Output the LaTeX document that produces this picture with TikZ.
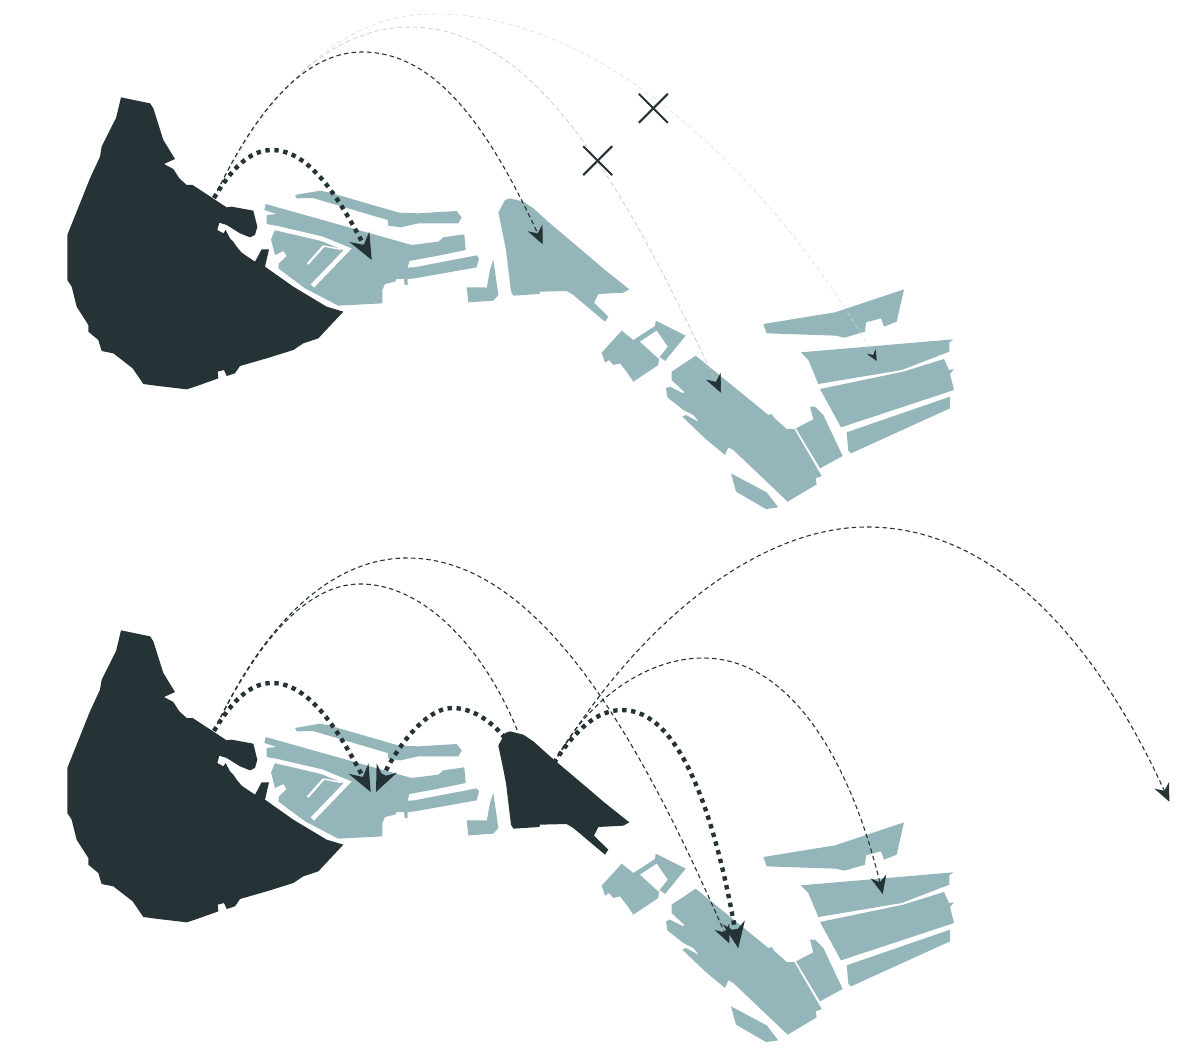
\documentclass[tikz,border=0pt]{standalone}
\usetikzlibrary{arrows.meta}
\definecolor{inkdark}{HTML}{253236}
\definecolor{palewater}{HTML}{94B6BA}
\tikzset{
  zoneA/.style={shift={(60,90)},scale=1/3},
  zoneB/.style={shift={(255,180)},scale=1/3},
  zoneC/.style={shift={(490,190)},scale=1/3},
  zoneD/.style={shift={(650,350)},scale=1/3},
  zoneE/.style={shift={(750,280)},scale=1/3},
  thinarc/.style={draw=inkdark,line width=1.1pt,dash pattern=on 4.5pt off 3.2pt},
  greyarc/.style={draw=black!24,line width=0.6pt,dash pattern=on 4.5pt off 3.2pt},
  faintarc/.style={draw=black!15,line width=0.5pt,dash pattern=on 4.5pt off 3.2pt},
  thickarc/.style={draw=inkdark,line width=4.4pt,dash pattern=on 4.4pt off 4.6pt},
  bighead/.style={-{Stealth[length=26pt,width=22pt,inset=9pt,color=inkdark,fill=inkdark]}},
  midhead/.style={-{Stealth[length=18pt,width=16pt,inset=6pt,color=inkdark,fill=inkdark]}},
  smallhead/.style={-{Stealth[length=11pt,width=10pt,inset=4pt,color=inkdark,fill=inkdark]}},
  crossmark/.style={draw=inkdark,line width=2pt},
}
\newcommand{\citymap}[2]{%
\begin{scope}[shift={(0,#1)}]
  % large dark district
  \begin{scope}[zoneA]
  \fill[inkdark,line join=round] (183,22) -- (270,40) -- (280,55) -- (310,150) -- (345,207) -- (312,222) -- (340,237) -- (358,265) -- (380,285) -- (398,285) -- (500,352) -- (515,350) -- (580,362) -- (592,410) -- (585,435) -- (570,442) -- (540,430) -- (500,405) -- (478,398) -- (472,420) -- (490,430) -- (497,420) -- (510,445) -- (520,455) -- (530,470) -- (545,488) -- (585,515) -- (605,478) -- (627,478) -- (615,530) -- (700,590) -- (800,650) -- (850,665) -- (775,745) -- (730,760) -- (700,780) -- (620,805) -- (540,828) -- (525,850) -- (500,858) -- (492,840) -- (473,845) -- (475,865) -- (405,890) -- (380,898) -- (295,888) -- (250,882) -- (218,835) -- (160,790) -- (125,783) -- (115,750) -- (85,725) -- (85,705) -- (50,650) -- (35,590) -- (22,570) -- (22,435) -- (90,265) -- (120,200) -- (125,170) -- (165,90) -- (168,85) -- cycle;
  \end{scope}
  % docks west
  \begin{scope}[zoneB]
  \fill[palewater] (120,45) -- (195,32) -- (225,38) -- (432,98) -- (490,100) -- (605,93) -- (620,112) -- (610,130) -- (490,130) -- (437,142) -- (400,137) -- (398,120) -- (174,54) -- (125,55) -- cycle;
  \fill[palewater] (32,72) -- (470,195) -- (550,185) -- (565,172) -- (628,163) -- (632,210) -- (545,228) -- (463,243) -- (458,263) -- (478,262) -- (665,226) -- (672,235) -- (665,262) -- (480,295) -- (458,297) -- (458,315) -- (449,315) -- (447,297) -- (425,297) -- (420,305) -- (390,312) -- (382,330) -- (382,370) -- (250,377) -- (150,325) -- (70,265) -- (72,250) -- (95,228) -- (85,213) -- (60,225) -- (48,178) -- (60,150) -- (35,130) -- (35,105) -- (65,102) -- (28,90) -- cycle;
  \draw[white,line width=4.6pt,line join=miter] (25,138) -- (62,144) -- (200,176) -- (278,208) -- (172,318);
  \draw[white,line width=2.2pt] (206,198) -- (158,252);
  \draw[white,line width=1.4pt] (206,198) -- (258,208);
  \fill[palewater] (635,322) -- (692,322) -- (695,325) -- (705,270) -- (715,240) -- (730,345) -- (715,362) -- (640,367) -- cycle;
  \end{scope}
  % central block (highlighted in the lower panel)
  \begin{scope}[zoneC]
  \fill[#2] (45,30) -- (60,25) -- (100,35) -- (130,55) -- (180,100) -- (310,210) -- (345,240) -- (418,298) -- (400,308) -- (325,312) -- (312,338) -- (355,380) -- (345,395) -- (250,315) -- (230,303) -- (150,305) -- (148,312) -- (70,317) -- (63,305) -- (48,180) -- (35,115) -- (25,68) -- cycle;
  \fill[palewater] (395,422) -- (430,450) -- (495,408) -- (497,392) -- (587,437) -- (525,513) -- (508,500) -- (505,525) -- (430,575) -- (412,548) -- (390,520) -- (370,525) -- (357,510) -- (345,518) -- (335,488) -- cycle;
  \fill[white] (450,455) -- (500,422) -- (533,470) -- (505,505) -- cycle;
  \end{scope}
  % long diagonal block
  \begin{scope}[zoneD]
  \fill[palewater] (137,17) -- (355,195) -- (365,192) -- (372,203) -- (410,237) -- (433,237) -- (515,378) -- (497,385) -- (500,403) -- (413,455) -- (250,300) -- (235,292) -- (225,315) -- (165,265) -- (97,200) -- (108,195) -- (150,218) -- (152,222) -- (130,195) -- (100,180) -- (75,160) -- (52,142) -- (48,115) -- (60,110) -- (100,130) -- (102,125) -- (65,90) -- (65,65) -- cycle;
  \fill[palewater] (243,370) -- (350,427) -- (385,472) -- (348,477) -- (258,425) -- cycle;
  \fill[palewater] (438,235) -- (490,208) -- (480,170) -- (495,170) -- (520,195) -- (578,318) -- (510,355) -- cycle;
  \end{scope}
  % eastern blocks
  \begin{scope}[zoneE]
  \fill[palewater] (40,132) -- (255,97) -- (462,28) -- (440,125) -- (402,140) -- (393,115) -- (348,127) -- (345,155) -- (283,173) -- (258,167) -- (50,160) -- cycle;
  \fill[palewater] (153,217) -- (610,178) -- (598,187) -- (598,215) -- (455,270) -- (205,312) -- (175,240) -- (160,225) -- cycle;
  \fill[palewater] (210,327) -- (460,275) -- (582,237) -- (597,270) -- (612,268) -- (600,282) -- (612,330) -- (273,442) -- cycle;
  \fill[palewater] (290,457) -- (600,350) -- (600,385) -- (303,520) -- (295,512) -- cycle;
  \end{scope}
\end{scope}}
\begin{document}
\begin{tikzpicture}[x=1pt,y=-1pt]
\useasboundingbox (0,0) rectangle (1196,1051);
\citymap{0}{palewater}
\citymap{533}{inkdark}
% ---- upper panel
\coordinate (uStart) at (214,198);
\coordinate (uDocks) at (371.7,260);
\coordinate (uCentre) at (542.7,244.3);
\coordinate (uDiag) at (721,392.7);
\coordinate (uEast) at (876.7,361);
\coordinate (uPeakA) at (272,150);
\coordinate (uPeakB) at (362,52);
\coordinate (uPeakC) at (410,27);
\coordinate (uPeakD) at (435,14);
\draw[faintarc,smallhead] (uStart) .. controls (280,70) and (350,14) .. (uPeakD) .. controls (610,14) and (780,190) .. (uEast);
\draw[greyarc,midhead] (uStart) .. controls (270,80) and (340,27) .. (uPeakC) .. controls (540,27) and (630,200) .. (uDiag);
\draw[thinarc,midhead] (uStart) .. controls (260,100) and (310,52) .. (uPeakB) .. controls (430,52) and (483,115) .. (uCentre);
\draw[thickarc,bighead] (uStart) .. controls (232,168) and (250,150) .. (uPeakA) .. controls (310,150) and (340,200) .. (uDocks);
\coordinate (crossA) at (597.7,160.7);
\coordinate (crossB) at (653.3,108.3);
\draw[crossmark] ([shift={(-14.5,-14.5)}]crossA) -- ([shift={(14.5,14.5)}]crossA);
\draw[crossmark] ([shift={(-14.5,14.5)}]crossA) -- ([shift={(14.5,-14.5)}]crossA);
\draw[crossmark] ([shift={(-14.5,-14.5)}]crossB) -- ([shift={(14.5,14.5)}]crossB);
\draw[crossmark] ([shift={(-14.5,14.5)}]crossB) -- ([shift={(14.5,-14.5)}]crossB);
% ---- lower panel
\coordinate (lStart) at (214,731);
\coordinate (lCentreL) at (505,738);
\coordinate (lCentreT) at (518,732);
\coordinate (lCentreR) at (554,763);
\coordinate (lDocksA) at (370.7,792);
\coordinate (lDocksB) at (376,792);
\coordinate (lDiagA) at (729.3,943.3);
\coordinate (lDiagB) at (738.3,948.3);
\coordinate (lEast) at (882.7,894);
\coordinate (lFar) at (1169.3,801.7);
\draw[thinarc] (lStart) .. controls (260,635) and (310,584) .. (360,584) .. controls (425,584) and (485,650) .. (lCentreT);
\draw[thinarc,midhead] (lStart) .. controls (270,610) and (340,558) .. (407,558) .. controls (540,558) and (640,740) .. (lDiagA);
\draw[thinarc,midhead] (lCentreR) .. controls (590,695) and (650,658) .. (703,658) .. controls (790,658) and (850,760) .. (lEast);
\draw[thinarc,midhead] (lCentreR) .. controls (640,620) and (760,527) .. (867,527) .. controls (1000,527) and (1100,650) .. (lFar);
\draw[thickarc,bighead] (lStart) .. controls (232,701) and (250,683) .. (272,683) .. controls (310,683) and (340,733) .. (lDocksA);
\draw[thickarc,bighead] (lCentreL) .. controls (490,720) and (472,708) .. (452,708) .. controls (425,708) and (395,750) .. (lDocksB);
\draw[thickarc,bighead] (lCentreR) .. controls (575,730) and (597,710) .. (622,710) .. controls (680,710) and (715,815) .. (lDiagB);
\end{tikzpicture}
\end{document}
